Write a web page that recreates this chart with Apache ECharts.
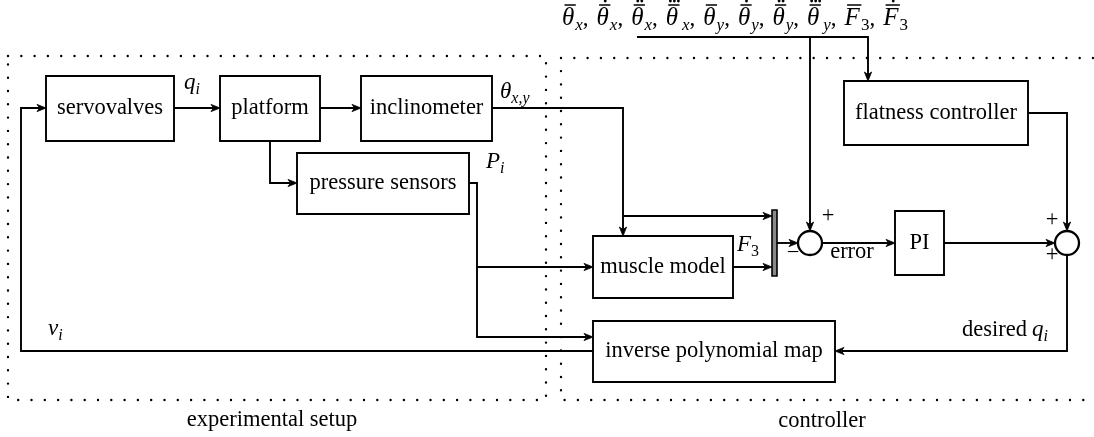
<!DOCTYPE html>
<html>
<head>
<meta charset="utf-8">
<script src="https://cdn.jsdelivr.net/npm/echarts@6/dist/echarts.min.js"></script>
<style>
  html, body { margin: 0; padding: 0; background: #fff; }
  #chart { width: 1094px; height: 437px; }
</style>
</head>
<body>
<div id="chart"></div>
<script>
// diagram units = pixels of the 1094x437 picture, y grows downwards
const BOX_NAMES = ['servovalves', 'platform', 'inclinometer', 'pressure sensors',
    'muscle model', 'inverse polynomial map', 'flatness controller', 'PI'];
const BOX_RECTS = [
    [46, 76, 174, 141], [220, 76, 320, 141], [361, 76, 492, 141], [297, 153, 469, 214],
    [593, 236, 733, 298], [593, 321, 835, 382], [844, 81, 1028, 145], [895, 211, 944, 275]
];
const JUNCTIONS = [[810, 243], [1067, 243]];
const MUX_BAR = [[772, 210, 777, 276]];
const REGION_RECTS = [[8, 56, 546, 400], [561, 58, 1110, 400]];
const REGION_NAMES = ['experimental setup', 'controller'];
const REGION_NAME_AT = [[272, 420], [822, 421]];

// connections, every one ends with an arrow head
const WIRES = [
    [[593, 351], [21, 351], [21, 108], [46, 108]],
    [[174, 108], [220, 108]],
    [[320, 108], [361, 108]],
    [[270, 141], [270, 183], [297, 183]],
    [[492, 108], [623, 108], [623, 236]],
    [[623, 216], [772, 216]],
    [[469, 183], [477, 183], [477, 337], [593, 337]],
    [[477, 267], [593, 267]],
    [[733, 267], [772, 267]],
    [[777, 243], [798, 243]],
    [[822, 243], [895, 243]],
    [[944, 243], [1055, 243]],
    [[1028, 113], [1067, 113], [1067, 231]],
    [[637, 37], [868, 37], [868, 81]],
    [[810, 37], [810, 231]],
    [[1067, 255], [1067, 351], [835, 351]]
];

// signs and plain words: [text, x, y]
const SIGNS = [['+', 828, 216], ['\u2212', 793, 253], ['+', 1052, 220], ['+', 1052, 255], ['error', 852, 252]];

// reference values above the controller: [symbol, index, number of dots]
const REF_TERMS = [['θ', 'x', 0], ['θ', 'x', 1], ['θ', 'x', 2], ['θ', 'x', 3],
    ['θ', 'y', 0], ['θ', 'y', 1], ['θ', 'y', 2], ['θ', 'y', 3], ['F', '3', 0], ['F', '3', 1]];

// signal names: left x, baseline y, pieces
const SIGNAL_LABELS = [
    {x: 184, y: 91, parts: [{t: 'q', it: 1}, {t: 'i', it: 1, sub: 1}]},
    {x: 500, y: 100, parts: [{t: 'θ', it: 1}, {t: 'x,y', it: 1, sub: 1}]},
    {x: 486, y: 170, parts: [{t: 'P', it: 1}, {t: 'i', it: 1, sub: 1}]},
    {x: 737, y: 253, parts: [{t: 'F', it: 1}, {t: '3', sub: 1}]},
    {x: 48, y: 337, parts: [{t: 'v', it: 1}, {t: 'i', it: 1, sub: 1}]},
    {x: 962, y: 338, parts: [{t: 'desired'}, {gap: 5}, {t: 'q', it: 1}, {t: 'i', it: 1, sub: 1}]}
];

const refParts = [];
REF_TERMS.forEach(function (d, i) {
    refParts.push({t: d[0], it: 1, bar: 1, dots: d[2], size: 25});
    refParts.push({gap: d[2] === 3 ? 4 : 1});
    refParts.push({t: d[1], it: d[1] !== '3', sub: 1, size: 17});
    if (i < REF_TERMS.length - 1) {
        refParts.push({t: ',', size: 23});
        refParts.push({gap: 8});
    }
});
SIGNAL_LABELS.push({x: 562, y: 27, parts: refParts});

const FAMILY = '"Liberation Serif", "DejaVu Serif", serif';
const LW = 1.9;
const measure = document.createElement('canvas').getContext('2d');
function textWidth(t, font) {
    measure.font = font;
    return measure.measureText(t).width;
}

function arrowHead(a, b) {
    const dx = b[0] - a[0], dy = b[1] - a[1];
    const len = Math.sqrt(dx * dx + dy * dy) || 1;
    const ux = dx / len, uy = dy / len, nx = -uy, ny = ux;
    const L = 9, W = 3.6, N = 6.5;
    return [
        [b[0], b[1]],
        [b[0] - ux * L + nx * W, b[1] - uy * L + ny * W],
        [b[0] - ux * N, b[1] - uy * N],
        [b[0] - ux * L - nx * W, b[1] - uy * L - ny * W]
    ];
}

function renderBox(params, api) {
    const p0 = api.coord([api.value(0), api.value(1)]);
    const p1 = api.coord([api.value(2), api.value(3)]);
    return {
        type: 'group',
        children: [{
            type: 'rect',
            shape: {x: p0[0], y: p0[1], width: p1[0] - p0[0], height: p1[1] - p0[1]},
            style: {fill: '#fff', stroke: '#000', lineWidth: LW}
        }, {
            type: 'text',
            style: {
                text: BOX_NAMES[params.dataIndex], x: (p0[0] + p1[0]) / 2, y: (p0[1] + p1[1]) / 2,
                font: '22.5px ' + FAMILY, fill: '#000', align: 'center', verticalAlign: 'middle'
            }
        }]
    };
}

function renderRegion(params, api) {
    const p0 = api.coord([api.value(0), api.value(1)]);
    const p1 = api.coord([api.value(2), api.value(3)]);
    const at = api.coord(REGION_NAME_AT[params.dataIndex]);
    return {
        type: 'group',
        children: [{
            type: 'rect',
            shape: {x: p0[0], y: p0[1], width: p1[0] - p0[0], height: p1[1] - p0[1]},
            style: {fill: 'none', stroke: '#000', lineWidth: 2.4, lineDash: [0, 13.3], lineCap: 'round'}
        }, {
            type: 'text',
            style: {
                text: REGION_NAMES[params.dataIndex], x: at[0], y: at[1],
                font: '22.5px ' + FAMILY, fill: '#000', align: 'center', verticalAlign: 'middle'
            }
        }]
    };
}

function renderWire(params, api) {
    const pts = WIRES[params.dataIndex].map(function (p) { return api.coord(p); });
    const head = arrowHead(pts[pts.length - 2], pts[pts.length - 1]);
    const body = pts.slice(0, -1).concat([head[2]]);
    return {
        type: 'group',
        children: [{
            type: 'polyline', shape: {points: body},
            style: {fill: 'none', stroke: '#000', lineWidth: LW, lineJoin: 'miter'}
        }, {
            type: 'polygon', shape: {points: head},
            style: {fill: '#000', stroke: '#000', lineWidth: 0.8, lineJoin: 'miter'}
        }]
    };
}

function renderJunction(params, api) {
    const c = api.coord([api.value(0), api.value(1)]);
    const e = api.coord([api.value(0) + 12, api.value(1)]);
    return {
        type: 'circle', shape: {cx: c[0], cy: c[1], r: e[0] - c[0]},
        style: {fill: '#fff', stroke: '#000', lineWidth: 2.3}
    };
}

function renderMux(params, api) {
    const p0 = api.coord([api.value(0), api.value(1)]);
    const p1 = api.coord([api.value(2), api.value(3)]);
    return {
        type: 'rect',
        shape: {x: p0[0], y: p0[1], width: p1[0] - p0[0], height: p1[1] - p0[1]},
        style: {fill: '#8a8a8a', stroke: '#000', lineWidth: 1.6}
    };
}

function renderSign(params, api) {
    const s = SIGNS[params.dataIndex];
    const p = api.coord([s[1], s[2]]);
    return {
        type: 'text',
        style: {
            text: s[0], x: p[0], y: p[1], font: '22.5px ' + FAMILY, fill: '#000',
            align: 'center', verticalAlign: 'middle'
        }
    };
}

function renderSignal(params, api) {
    const lab = SIGNAL_LABELS[params.dataIndex];
    const p = api.coord([lab.x, lab.y]);
    let cx = p[0];
    const children = [];
    lab.parts.forEach(function (part) {
        if (part.gap) { cx += part.gap; return; }
        const size = part.size || (part.sub ? 16 : (part.it ? 23 : 22.5));
        const font = (part.it ? 'italic ' : '') + size + 'px ' + FAMILY;
        const base = p[1] + (part.sub ? 4 : 0);
        const w = textWidth(part.t, font);
        children.push({
            type: 'text',
            style: {
                text: part.t, x: cx, y: base - 0.34 * size, font: font, fill: '#000',
                align: 'left', verticalAlign: 'middle'
            }
        });
        if (part.bar) {
            children.push({
                type: 'line', shape: {x1: cx + 2.5, y1: p[1] - 22, x2: cx + w + 1.5, y2: p[1] - 22},
                style: {stroke: '#000', lineWidth: 1.5}
            });
            const mid = cx + w / 2 + 2.5;
            for (let k = 0; k < part.dots; k++) {
                children.push({
                    type: 'circle', shape: {cx: mid + (k - (part.dots - 1) / 2) * 4, cy: p[1] - 26, r: 1.4},
                    style: {fill: '#000'}
                });
            }
        }
        cx += w;
    });
    return {type: 'group', children: children};
}

const chart = echarts.init(document.getElementById('chart'), null, {renderer: 'canvas'});
chart.setOption({
    animation: false,
    backgroundColor: '#fff',
    grid: {left: 0, right: 0, top: 0, bottom: 0},
    xAxis: {type: 'value', min: 0, max: 1094, show: false},
    yAxis: {type: 'value', min: 0, max: 437, inverse: true, show: false},
    tooltip: {show: false},
    series: [
        {type: 'custom', name: 'regions', renderItem: renderRegion, data: REGION_RECTS, silent: true, clip: false},
        {type: 'custom', name: 'wires', renderItem: renderWire,
            data: WIRES.map(function (w) { return w[w.length - 1]; }), silent: true, clip: false},
        {type: 'custom', name: 'blocks', renderItem: renderBox, data: BOX_RECTS, silent: true, clip: false},
        {type: 'custom', name: 'mux', renderItem: renderMux, data: MUX_BAR, silent: true, clip: false},
        {type: 'custom', name: 'junctions', renderItem: renderJunction, data: JUNCTIONS, silent: true, clip: false},
        {type: 'custom', name: 'signs', renderItem: renderSign,
            data: SIGNS.map(function (s) { return [s[1], s[2]]; }), silent: true, clip: false},
        {type: 'custom', name: 'signals', renderItem: renderSignal,
            data: SIGNAL_LABELS.map(function (l) { return [l.x, l.y]; }), silent: true, clip: false}
    ]
});
</script>
</body>
</html>
